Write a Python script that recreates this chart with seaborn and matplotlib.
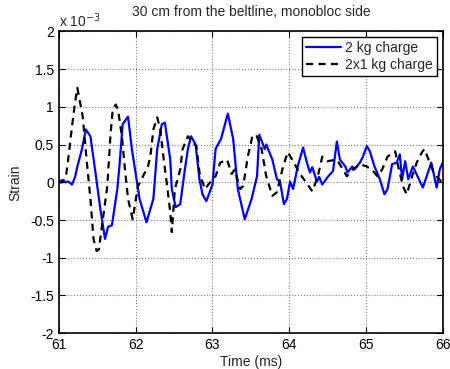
import numpy as np
import pandas as pd
import matplotlib
matplotlib.use("Agg")
import matplotlib.pyplot as plt
import seaborn as sns

# Time (ms) and strain (x 10^-3)
t_2kg = [61.00, 61.04, 61.08, 61.12, 61.17, 61.21, 61.24, 61.30, 61.35, 61.41,
         61.47, 61.54, 61.60, 61.64, 61.69, 61.76, 61.79, 61.83, 61.90, 61.95,
         62.00, 62.05, 62.14, 62.23, 62.28, 62.34, 62.38, 62.45, 62.47, 62.52,
         62.58, 62.64, 62.68, 62.72, 62.78, 62.83, 62.87, 62.92, 63.00, 63.04,
         63.07, 63.11, 63.20, 63.27, 63.33, 63.42, 63.51, 63.58, 63.61, 63.68,
         63.70, 63.78, 63.84, 63.88, 63.93, 63.97, 64.01, 64.05, 64.11, 64.18,
         64.23, 64.27, 64.30, 64.36, 64.39, 64.43, 64.50, 64.57, 64.62, 64.66,
         64.73, 64.76, 64.82, 64.85, 64.92, 64.96, 65.01, 65.05, 65.11, 65.18,
         65.24, 65.28, 65.34, 65.40, 65.44, 65.47, 65.51, 65.55, 65.61, 65.67,
         65.74, 65.79, 65.85, 65.92, 65.96, 66.00]
s_2kg = [0.00, 0.03, 0.00, 0.01, -0.03, 0.07, 0.21, 0.44, 0.70, 0.61,
         0.17, -0.36, -0.75, -0.59, -0.57, -0.09, 0.24, 0.77, 0.87, 0.44,
         0.11, -0.22, -0.53, -0.22, 0.44, 0.77, 0.79, 0.30, -0.09, -0.33,
         -0.29, 0.17, 0.44, 0.61, 0.50, 0.04, -0.16, -0.25, -0.03, 0.44,
         0.50, 0.57, 0.91, 0.57, -0.09, -0.49, -0.22, 0.08, 0.63, 0.44,
         0.50, 0.30, 0.04, 0.01, -0.29, -0.22, 0.01, -0.09, 0.21, 0.46,
         0.26, 0.13, 0.20, 0.01, 0.07, -0.03, 0.07, 0.15, 0.54, 0.30,
         0.21, 0.13, 0.21, 0.17, 0.26, 0.34, 0.48, 0.41, 0.21, 0.04,
         -0.16, -0.09, 0.24, 0.26, 0.37, 0.04, 0.28, 0.04, 0.21, 0.08,
         -0.07, 0.08, 0.26, -0.07, 0.17, 0.26]

t_2x1kg = [61.00, 61.05, 61.09, 61.12, 61.17, 61.21, 61.24, 61.31, 61.36, 61.41,
           61.45, 61.49, 61.52, 61.56, 61.63, 61.67, 61.70, 61.74, 61.77, 61.82,
           61.86, 61.90, 61.96, 62.03, 62.12, 62.15, 62.19, 62.23, 62.28, 62.32,
           62.36, 62.41, 62.45, 62.47, 62.51, 62.58, 62.61, 62.68, 62.74, 62.79,
           62.83, 62.90, 62.97, 63.04, 63.10, 63.19, 63.25, 63.29, 63.36, 63.40,
           63.46, 63.52, 63.57, 63.64, 63.70, 63.78, 63.84, 63.91, 63.98, 64.05,
           64.14, 64.24, 64.30, 64.37, 64.43, 64.50, 64.62, 64.70, 64.75, 64.83,
           64.92, 65.01, 65.09, 65.15, 65.21, 65.28, 65.38, 65.42, 65.48, 65.53,
           65.60, 65.66, 65.73, 65.76, 65.83, 65.89, 65.98, 66.00]
s_2x1kg = [0.00, 0.00, 0.07, 0.30, 0.74, 1.06, 1.25, 0.87, 0.30, -0.22,
           -0.75, -0.91, -0.89, -0.58, -0.05, 0.61, 0.96, 1.03, 0.96, 0.61,
           0.17, -0.22, -0.49, -0.05, 0.13, 0.17, 0.34, 0.70, 0.86, 0.70,
           0.34, -0.05, -0.40, -0.66, -0.09, 0.17, 0.44, 0.61, 0.53, 0.48,
           0.13, -0.09, 0.00, 0.08, 0.26, 0.30, 0.11, 0.17, -0.09, -0.05,
           0.34, 0.61, 0.63, 0.44, 0.08, -0.18, -0.13, 0.17, 0.40, 0.28,
           0.11, -0.03, -0.12, 0.07, 0.34, 0.28, 0.30, 0.17, 0.08, 0.17,
           0.24, 0.21, 0.15, 0.08, 0.17, 0.34, 0.41, 0.21, -0.05, -0.16,
           0.08, 0.26, 0.40, 0.44, 0.26, 0.11, 0.01, -0.02]

series_names = ["2 kg charge", "2x1 kg charge"]
x_ticks = [61, 62, 63, 64, 65, 66]
y_ticks = [-2, -1.5, -1, -0.5, 0, 0.5, 1, 1.5, 2]
y_tick_labels = ["-2", "-1.5", "-1", "-0.5", "0", "0.5", "1", "1.5", "2"]

df = pd.concat([
    pd.DataFrame({"t": t_2kg, "s": s_2kg, "series": series_names[0]}),
    pd.DataFrame({"t": t_2x1kg, "s": s_2x1kg, "series": series_names[1]}),
], ignore_index=True)

sns.set_style("white")
plt.rcParams["font.family"] = ["Liberation Sans", "DejaVu Sans"]

fig = plt.figure(figsize=(4.5, 3.69), dpi=100)
ax = fig.add_axes([0.131, 0.097, 0.853, 0.818])

sns.lineplot(data=df, x="t", y="s", hue="series", style="series",
             palette={series_names[0]: "#0000ff", series_names[1]: "#000000"},
             dashes={series_names[0]: "", series_names[1]: (3.2, 2.4)},
             linewidth=1.6, sort=False, estimator=None, ax=ax)

ax.set_xlim(61, 66)
ax.set_ylim(-2, 2)
ax.set_xticks(x_ticks)
ax.set_xticklabels([str(v) for v in x_ticks])
ax.set_yticks(y_ticks)
ax.set_yticklabels(y_tick_labels)
ax.tick_params(direction="in", length=4, width=0.8, labelsize=10,
               top=True, right=True, bottom=True, left=True, colors="black")
ax.grid(True, linestyle=":", color="#777777", linewidth=0.8)
for sp in ax.spines.values():
    sp.set_visible(True)
    sp.set_color("black")
    sp.set_linewidth(1.2)

ax.set_xlabel("Time (ms)", fontsize=10, labelpad=2)
ax.set_ylabel("Strain", fontsize=10, labelpad=6)
ax.set_title("30 cm from the beltline, monobloc side", fontsize=10, pad=11)
ax.text(0.0, 1.005, r"x 10$^{-3}$", transform=ax.transAxes, fontsize=10,
        ha="left", va="bottom")

leg = ax.legend(loc="upper right", fontsize=10, frameon=True, fancybox=False,
                edgecolor="black", handlelength=2.5, borderpad=0.3,
                labelspacing=0.2, handletextpad=0.3, borderaxespad=0.4)
leg.get_frame().set_linewidth(1.0)
leg.get_frame().set_alpha(1)

fig.savefig("out.png", dpi=100)
